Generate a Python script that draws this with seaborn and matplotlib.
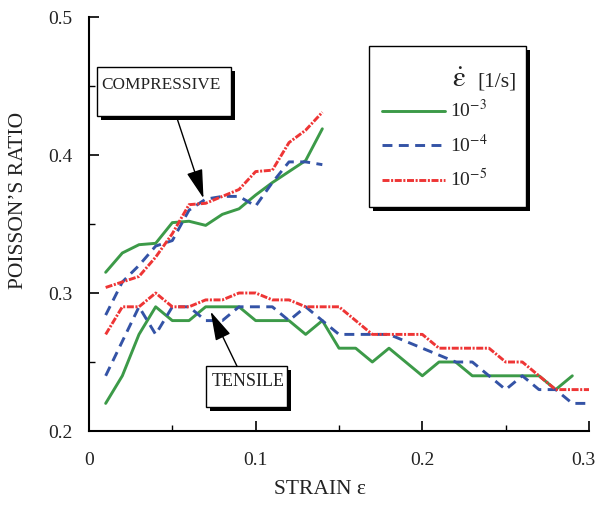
import numpy as np
import pandas as pd
import seaborn as sns
import matplotlib
matplotlib.use("Agg")
import matplotlib.pyplot as plt
import matplotlib.patheffects as pe
from matplotlib.lines import Line2D
from matplotlib.patches import Rectangle
from matplotlib.transforms import ScaledTranslation
from matplotlib.ticker import MultipleLocator, FuncFormatter

# Strain rates [1/s] and their legend labels
rates = ["1e-3", "1e-4", "1e-5"]
rate_labels = ["10$^{-3}$", "10$^{-4}$", "10$^{-5}$"]

# Compressive loading (strain 0.01 .. 0.14)
comp_strain = [0.01, 0.02, 0.03, 0.04, 0.05, 0.06, 0.07,
               0.08, 0.09, 0.10, 0.11, 0.12, 0.13, 0.14]
comp_1e3 = [0.315, 0.329, 0.335, 0.336, 0.351, 0.352, 0.349,
            0.357, 0.361, 0.371, 0.380, 0.388, 0.396, 0.419]
comp_1e4 = [0.284, 0.308, 0.320, 0.334, 0.338, 0.360, 0.368,
            0.370, 0.370, 0.363, 0.380, 0.395, 0.395, 0.393]
comp_1e5 = [0.304, 0.308, 0.312, 0.326, 0.343, 0.364, 0.365,
            0.370, 0.375, 0.388, 0.389, 0.409, 0.418, 0.431]

# Tensile loading (strain 0.01 .. 0.30)
tens_strain = [0.01, 0.02, 0.03, 0.04, 0.05, 0.06, 0.07, 0.08, 0.09, 0.10,
               0.11, 0.12, 0.13, 0.14, 0.15, 0.16, 0.17, 0.18, 0.19, 0.20,
               0.21, 0.22, 0.23, 0.24, 0.25, 0.26, 0.27, 0.28, 0.29, 0.30]
tens_1e3 = [0.22, 0.24, 0.27, 0.29, 0.28, 0.28, 0.29, 0.29, 0.29, 0.28,
            0.28, 0.28, 0.27, 0.28, 0.26, 0.26, 0.25, 0.26, 0.25, 0.24,
            0.25, 0.25, 0.24, 0.24, 0.24, 0.24, 0.24, 0.23, 0.24]
tens_1e4 = [0.24, 0.265, 0.29, 0.27, 0.29, 0.29, 0.28, 0.28, 0.29, 0.29,
            0.29, 0.28, 0.29, 0.28, 0.27, 0.27, 0.27, 0.27, 0.265, 0.26,
            0.255, 0.25, 0.25, 0.24, 0.23, 0.24, 0.23, 0.23, 0.22, 0.22]
tens_1e5 = [0.27, 0.29, 0.29, 0.30, 0.29, 0.29, 0.295, 0.295, 0.30, 0.30,
            0.295, 0.295, 0.29, 0.29, 0.29, 0.28, 0.27, 0.27, 0.27, 0.27,
            0.26, 0.26, 0.26, 0.26, 0.25, 0.25, 0.24, 0.23, 0.23, 0.23]

x_ticks = [0, 0.1, 0.2, 0.3]
y_ticks = [0.2, 0.3, 0.4, 0.5]

colors = {"1e-3": "#3c9a48", "1e-4": "#3453a6", "1e-5": "#ee3535"}
dashes = {"1e-3": "", "1e-4": (3.4, 2.2), "1e-5": (2.4, 0.55, 0.7, 0.55)}

frames = []
for mode, xs, series in [("compressive", comp_strain, [comp_1e3, comp_1e4, comp_1e5]),
                         ("tensile", tens_strain, [tens_1e3, tens_1e4, tens_1e5])]:
    for rate, ys in zip(rates, series):
        frames.append(pd.DataFrame({"strain": xs[:len(ys)], "nu": ys,
                                    "rate": rate, "mode": mode}))
df = pd.concat(frames, ignore_index=True)

sns.set_theme(style="white")
plt.rcParams["font.family"] = ["Liberation Serif", "DejaVu Serif"]
plt.rcParams["mathtext.fontset"] = "stix"

W, H = 599, 507
fig = plt.figure(figsize=(W / 100, H / 100), dpi=100)
ax = fig.add_axes([89 / W, 1 - 431 / H, 500 / W, 414 / H])

sns.lineplot(data=df, x="strain", y="nu", hue="rate", style="rate",
             units="mode", estimator=None, sort=False,
             palette=colors, dashes=dashes, linewidth=2.1,
             legend=False, ax=ax)

ax.set_xlim(0, 0.3)
ax.set_ylim(0.2, 0.5)
ax.set_xticks(x_ticks)
ax.set_yticks(y_ticks)
ax.xaxis.set_minor_locator(MultipleLocator(0.05))
ax.yaxis.set_minor_locator(MultipleLocator(0.05))
ax.xaxis.set_major_formatter(FuncFormatter(lambda v, p: "0" if abs(v) < 1e-9 else f"{v:g}"))
ax.yaxis.set_major_formatter(FuncFormatter(lambda v, p: f"{v:g}"))

for s in ["top", "right"]:
    ax.spines[s].set_visible(False)
for s in ["left", "bottom"]:
    ax.spines[s].set_color("black")
    ax.spines[s].set_linewidth(1.5)

ax.tick_params(axis="both", which="major", direction="in", length=7.5, width=1.2,
               color="black", labelsize=14, labelcolor="#222222")
ax.tick_params(axis="both", which="minor", direction="in", length=4.5, width=1.0,
               color="black")
ax.tick_params(axis="x", which="major", pad=15)
ax.tick_params(axis="y", which="major", pad=12)
ax.tick_params(axis="both", which="both", bottom=True, left=True)

ax.set_xlabel("STRAIN ε", fontsize=15.5, color="#222222")
ax.set_ylabel("POISSON’S RATIO", fontsize=15.5, color="#222222")
ax.xaxis.set_label_coords((320 - 89) / 500, (431 - 480) / 414)
ax.yaxis.set_label_coords((28 - 89) / 500, (431 - 200) / 414)

shadow = [pe.SimplePatchShadow(offset=(3, -3), shadow_rgbFace="black", alpha=1.0), pe.Normal()]
inv = ax.transData.inverted()


def px(x, y):
    """Figure pixel (from top-left) to data coordinates."""
    return tuple(inv.transform((x, H - y)))


def shadow_box(x0, y0, x1, y1, z=4):
    (dx0, dy0) = px(x0, y1)
    (dx1, dy1) = px(x1, y0)
    r = Rectangle((dx0, dy0), dx1 - dx0, dy1 - dy0, fc="white", ec="black",
                  lw=1.0, zorder=z, clip_on=False)
    r.set_path_effects(shadow)
    ax.add_patch(r)


# Arrows from the callout boxes to the curves
arrow = dict(arrowstyle="-|>,head_length=1.5,head_width=0.42",
             color="black", lw=1.0, shrinkA=0, shrinkB=0)
ax.annotate("", xy=(0.0687, 0.3686), xytext=(0.0517, 0.4307), arrowprops=arrow)
ax.annotate("", xy=(0.0730, 0.2865), xytext=(0.0899, 0.2442), arrowprops=arrow)

shadow_box(97, 67, 231, 116)
shadow_box(206, 366, 287, 407)
ax.text(*px(161, 85), "COMPRESSIVE", fontsize=12.4, color="#222222",
        ha="center", va="center", zorder=5)
ax.text(*px(248, 382), "TENSILE", fontsize=13, color="#222222",
        ha="center", va="center", zorder=5)

# Legend: framed box with header, then the three strain rates
shadow_box(369, 46, 526, 207, z=6)
ax.text(*px(452, 87), "$\\dot{\\mathrm{\\varepsilon}}$", fontsize=21, color="#222222",
        ha="left", va="baseline", zorder=7)
ax.text(*px(477, 87), "[1/s]", fontsize=15.5, color="#222222",
        ha="left", va="baseline", zorder=7)

handles = [Line2D([], [], color=colors[r], linewidth=2.1,
                  linestyle=(0, dashes[r]) if dashes[r] else "-") for r in rates]
leg = ax.legend(handles, rate_labels, loc="center left",
                bbox_to_anchor=(382 / W, 1 - 145 / H), bbox_transform=fig.transFigure,
                borderaxespad=0, borderpad=0, frameon=False,
                fontsize=14, handlelength=3.25, handletextpad=0.25,
                labelspacing=0.64)
leg.set_zorder(8)
for txt in leg.get_texts():
    txt.set_color("#222222")

# keep the last x tick label inside the figure
last = ax.xaxis.get_major_ticks()[-1].label1
last.set_transform(last.get_transform() + ScaledTranslation(-4 / 72, 0, fig.dpi_scale_trans))

fig.savefig("out.png", dpi=100)
